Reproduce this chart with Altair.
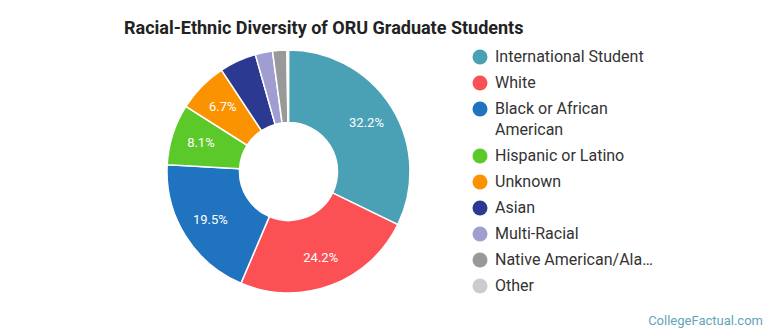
import altair as alt
import pandas as pd

categories = ["International Student", "White", "Black or African American",
              "Hispanic or Latino", "Unknown", "Asian", "Multi-Racial",
              "Native American/Alaska Native", "Other"]
values = [32.2, 24.2, 19.5, 8.1, 6.7, 4.9, 2.3, 1.9, 0.2]
colors = ["#4aa0b4", "#fb5155", "#1f73bf", "#5cc92a", "#fb9200",
          "#2b3990", "#a09dd0", "#999999", "#cccccc"]

df = pd.DataFrame({"category": categories, "value": values,
                   "order": list(range(len(categories)))})

base = alt.Chart(df).transform_calculate(
    label="datum.value >= 5 ? format(datum.value, '.1f') + '%' : ''"
)

legend = alt.Legend(
    title=None, orient="none", legendX=472, legendY=49, padding=0,
    symbolType="circle", symbolSize=225, symbolStrokeWidth=0, symbolOpacity=1,
    labelFont="Roboto", labelFontSize=16, labelColor="#333333",
    labelLimit=162, rowPadding=10, labelOffset=7,
    labelExpr="datum.label == 'Black or African American' ? ['Black or African', 'American'] : datum.label",
)

arcs = base.mark_arc(outerRadius=121.5, innerRadius=49, stroke="white",
                     strokeWidth=1.5).encode(
    theta=alt.Theta("value:Q", stack=True),
    order=alt.Order("order:Q"),
    color=alt.Color("category:N", scale=alt.Scale(domain=categories, range=colors),
                    sort=categories, legend=legend),
    x=alt.value(288.5), y=alt.value(171.5),
)

labels = base.mark_text(radius=92, font="Roboto", fontSize=13, color="white",
                        baseline="middle", align="center").encode(
    theta=alt.Theta("value:Q", stack=True),
    order=alt.Order("order:Q"),
    text="label:N",
    x=alt.value(288.5), y=alt.value(171.5),
)

footer = alt.Chart(pd.DataFrame({"t": ["CollegeFactual.com"]})).mark_text(
    align="right", baseline="alphabetic", font="Roboto", fontSize=13, color="#62a4b8"
).encode(text="t:N", x=alt.value(763), y=alt.value(325))

chart = alt.layer(arcs, labels, footer).properties(
    width=770, height=335,
    title=alt.TitleParams("Racial-Ethnic Diversity of ORU Graduate Students",
                          anchor="start", dx=124, dy=56, font="Roboto",
                          fontSize=18, fontWeight="bold", color="#222222",
                          baseline="alphabetic"),
    autosize=alt.AutoSizeParams(type="none"),
    padding=0,
).configure(
    view=alt.ViewConfig(strokeWidth=0),
    style={"guide-label": {"lineHeight": 21}},
)

chart.save("out.html", embed_options={"renderer": "svg", "actions": False})
